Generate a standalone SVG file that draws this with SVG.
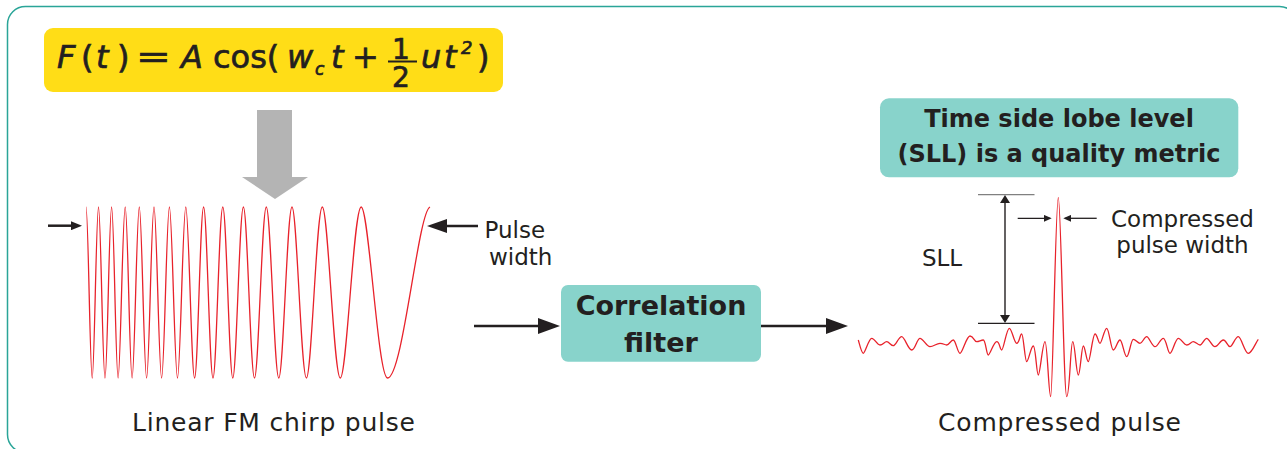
<svg xmlns="http://www.w3.org/2000/svg" width="1287" height="449" viewBox="0 0 1287 449">
  <style>
    .lbl { font-family: "DejaVu Sans", "Liberation Sans", sans-serif; fill: #231f20; }
    .eq { font-family: "DejaVu Sans", "Liberation Sans", sans-serif; font-size: 32px; fill: #231f20; stroke: #231f20; stroke-width: 0.7; }
    .it { font-style: italic; }
    .bold { font-weight: bold; }
    .frac { font-size: 28px; }
    .sub { font-size: 17px; }
    .sup { font-size: 18px; }
    .teal { fill: #88d3cb; }
    .wave { fill: none; stroke: #e8222b; stroke-width: 1.3; stroke-linejoin: round; }
    .ink { stroke: #231f20; fill: none; }
  </style>
  <defs>
    <marker id="ah-xl" viewBox="0 0 22 16" refX="12" refY="8" markerWidth="22" markerHeight="16" markerUnits="userSpaceOnUse" orient="auto">
      <path d="M0,0 L22,8 L0,16 z" fill="#231f20"/>
    </marker>
    <marker id="ah-lg" viewBox="0 0 20 14" refX="10" refY="7" markerWidth="20" markerHeight="14" markerUnits="userSpaceOnUse" orient="auto">
      <path d="M0,0 L20,7 L0,14 z" fill="#231f20"/>
    </marker>
    <marker id="ah-md" viewBox="0 0 11 9" refX="5" refY="4.5" markerWidth="11" markerHeight="9" markerUnits="userSpaceOnUse" orient="auto">
      <path d="M0,0 L11,4.5 L0,9 z" fill="#231f20"/>
    </marker>
    <marker id="ah-sm" viewBox="0 0 8 7" refX="6" refY="3.5" markerWidth="8" markerHeight="7" markerUnits="userSpaceOnUse" orient="auto">
      <path d="M0,0 L8,3.5 L0,7 z" fill="#231f20"/>
    </marker>
    <marker id="ah-v" viewBox="0 0 8 10" refX="6" refY="5" markerWidth="8" markerHeight="10" markerUnits="userSpaceOnUse" orient="auto-start-reverse">
      <path d="M0,0 L8,5 L0,10 z" fill="#231f20"/>
    </marker>
  </defs>

  <!-- outer frame -->
  <rect x="7.5" y="6.5" width="1290" height="446" rx="18" fill="none" stroke="#2aa598" stroke-width="1.5"/>

  <!-- signal equation -->
  <g id="formula">
    <rect x="44" y="28" width="459" height="64" rx="9" fill="#ffdd17"/>
    <text class="eq it" x="57" y="68">F</text>
    <text class="eq" x="81" y="68">(</text>
    <text class="eq it" x="96" y="68">t</text>
    <text class="eq" x="117" y="68">)</text>
    <text class="eq" transform="translate(136,68) scale(1.3,1)">=</text>
    <text class="eq it" x="181" y="68">A</text>
    <text class="eq" x="213" y="68">cos(</text>
    <text class="eq it" x="287" y="68">w</text>
    <text class="eq it sub" x="315" y="75">c</text>
    <text class="eq it" x="331" y="68">t</text>
    <text class="eq" x="352" y="68">+</text>
    <text class="eq frac" x="401" y="58.5" text-anchor="middle">1</text>
    <line x1="388" y1="61.5" x2="417" y2="61.5" stroke="#231f20" stroke-width="2"/>
    <text class="eq frac" x="401" y="87" text-anchor="middle">2</text>
    <text class="eq it" x="421" y="68">u</text>
    <text class="eq it" x="444" y="68">t</text>
    <text class="eq it sup" x="461" y="54">2</text>
    <text class="eq" x="477" y="68">)</text>
  </g>

  <!-- chirp waveform -->
  <g id="chirp">
    <path class="wave" d="M86,207 C88.3,207 90,378 92.2,378 S96.2,207 98.5,207 S102.6,378 105,378 S109.2,207 111.6,207 S115.7,378 118.1,378 S122.6,207 125.2,207 S129.6,378 132.1,378 S136.7,207 139.3,207 S143.9,378 146.6,378 S151.3,207 154,207 S158.8,378 161.6,378 S166.6,207 169.4,207 S174.6,378 177.5,378 S182.8,207 185.8,207 S191.4,378 194.6,378 S200.3,207 203.6,207 S209.6,378 213,378 S219.2,207 222.8,207 S229.2,378 232.8,378 S239.5,207 243.4,207 S250.5,378 254.5,378 S262,207 266.3,207 S274.3,378 278.8,378 S287.2,207 292,207 S301.2,378 306.4,378 S316.5,207 322.3,207 S333.8,378 340.3,378 S353.6,207 361.2,207 S377.9,378 387.5,378 C402.9,378 418,212 430,207"/>
    <text class="lbl" x="273.5" y="431" font-size="25" text-anchor="middle" textLength="283" lengthAdjust="spacing">Linear FM chirp pulse</text>
  </g>

  <!-- pulse width annotation -->
  <g id="pulse-width">
    <text class="lbl" x="484.5" y="238" font-size="23">Pulse</text>
    <text class="lbl" x="489" y="265" font-size="23">width</text>
  </g>

  <!-- matched filter block -->
  <g id="filter">
    <rect class="teal" x="561" y="285" width="200" height="76.7" rx="7"/>
    <text class="lbl bold" x="661" y="315" font-size="27" text-anchor="middle">Correlation</text>
    <text class="lbl bold" x="661" y="351.7" font-size="27" text-anchor="middle">filter</text>
  </g>

  <!-- side lobe note -->
  <g id="sll-note">
    <rect class="teal" x="880" y="98.3" width="358.3" height="79" rx="9"/>
    <text class="lbl bold" x="1059" y="126.7" font-size="24" text-anchor="middle">Time side lobe level</text>
    <text class="lbl bold" x="1059" y="161.7" font-size="24" text-anchor="middle">(SLL) is a quality metric</text>
  </g>

  <!-- compressed output -->
  <g id="compressed">
    <path class="wave" d="M858.3,340 C859.5,344 861.5,353.3 863.3,353.3 S868.7,338.3 871.7,338.3 S877,345 880,345 S884.3,341.7 886.7,341.7 S890.9,345.7 893.3,345.7 S898.7,336.7 901.7,336.7 S908.1,350 911.7,350 S917,338.3 920,338.3 S926.4,346.7 930,346.7 S936.4,343.3 940,343.3 S944.3,345 946.7,345 S950.9,340 953.3,340 S957.6,353.3 960,353.3 S966.4,336 970,336 S974.3,341.7 976.7,341.7 S980.9,340 983.3,340 S986.5,355 988.3,355 S993.7,341.7 996.7,341.7 S999.9,350 1001.7,350 S1006.6,328.3 1009.3,328.3 S1014,343.3 1016.7,343.3 S1019.9,334 1021.7,334 S1024.9,361.7 1026.7,361.7 S1030.9,346 1033.3,346 S1036.5,375 1038.3,375 S1042.6,341.7 1045,341.7 S1048.6,396.7 1050.7,396.7 S1055.6,197.3 1058.3,197.3 S1063.7,396.7 1066.7,396.7 S1070.5,341.7 1072.7,341.7 S1076.3,375 1078.3,375 S1081.5,346 1083.3,346 S1086.5,361.7 1088.3,361.7 S1092.6,334 1095,334 S1098.2,343.3 1100,343.3 S1104.3,328.3 1106.7,328.3 S1110.9,350 1113.3,350 S1117.6,340 1120,340 S1124.3,356.7 1126.7,356.7 S1130.9,339.3 1133.3,339.3 S1137.6,343.3 1140,343.3 S1144.3,336.7 1146.7,336.7 S1152,346.7 1155,346.7 S1160.3,338.3 1163.3,338.3 S1167.6,353.3 1170,353.3 S1175.3,338.3 1178.3,338.3 S1183.7,345 1186.7,345 S1190.9,341.7 1193.3,341.7 S1197.6,345 1200,345 S1204.3,338.3 1206.7,338.3 S1212,346.7 1215,346.7 S1220.3,340 1223.3,340 S1227.6,346.7 1230,346.7 S1235.3,336.7 1238.3,336.7 S1244.7,353.3 1248.3,353.3 S1256,342 1258.3,339.3"/>
    <text class="lbl" x="1059.5" y="430.5" font-size="25" text-anchor="middle" textLength="243" lengthAdjust="spacing">Compressed pulse</text>
    <text class="lbl" x="942" y="266" font-size="23" text-anchor="middle">SLL</text>
    <text class="lbl" x="1182.5" y="226.7" font-size="23" text-anchor="middle">Compressed</text>
    <text class="lbl" x="1182.5" y="253" font-size="23" text-anchor="middle">pulse width</text>
    <!-- SLL reference levels -->
    <line x1="978" y1="194.7" x2="1034.5" y2="194.7" stroke="#808080" stroke-width="1.3"/>
    <line x1="978" y1="323.3" x2="1034.5" y2="323.3" stroke="#231f20" stroke-width="1.3"/>
  </g>

  <!-- connectors and dimension arrows -->
  <g id="connectors">
    <polygon points="257,110 292,110 292,177 308,177 275,199 242,177 257,177" fill="#b4b4b4"/>
    <line class="ink" x1="48" y1="225.7" x2="76" y2="225.7" stroke-width="2.5" marker-end="url(#ah-md)"/>
    <line class="ink" x1="478" y1="226" x2="437" y2="226" stroke-width="2.5" marker-end="url(#ah-lg)"/>
    <line class="ink" x1="474" y1="326" x2="550" y2="326" stroke-width="2.7" marker-end="url(#ah-xl)"/>
    <line class="ink" x1="761" y1="326" x2="838" y2="326" stroke-width="2.7" marker-end="url(#ah-xl)"/>
    <line class="ink" x1="1005" y1="197" x2="1005" y2="321" stroke-width="1.4" marker-start="url(#ah-v)" marker-end="url(#ah-v)"/>
    <line class="ink" x1="1017.7" y1="218.3" x2="1049.7" y2="218.3" stroke-width="1.3" marker-end="url(#ah-sm)"/>
    <line class="ink" x1="1096.7" y1="218.3" x2="1065.3" y2="218.3" stroke-width="1.3" marker-end="url(#ah-sm)"/>
  </g>
</svg>
